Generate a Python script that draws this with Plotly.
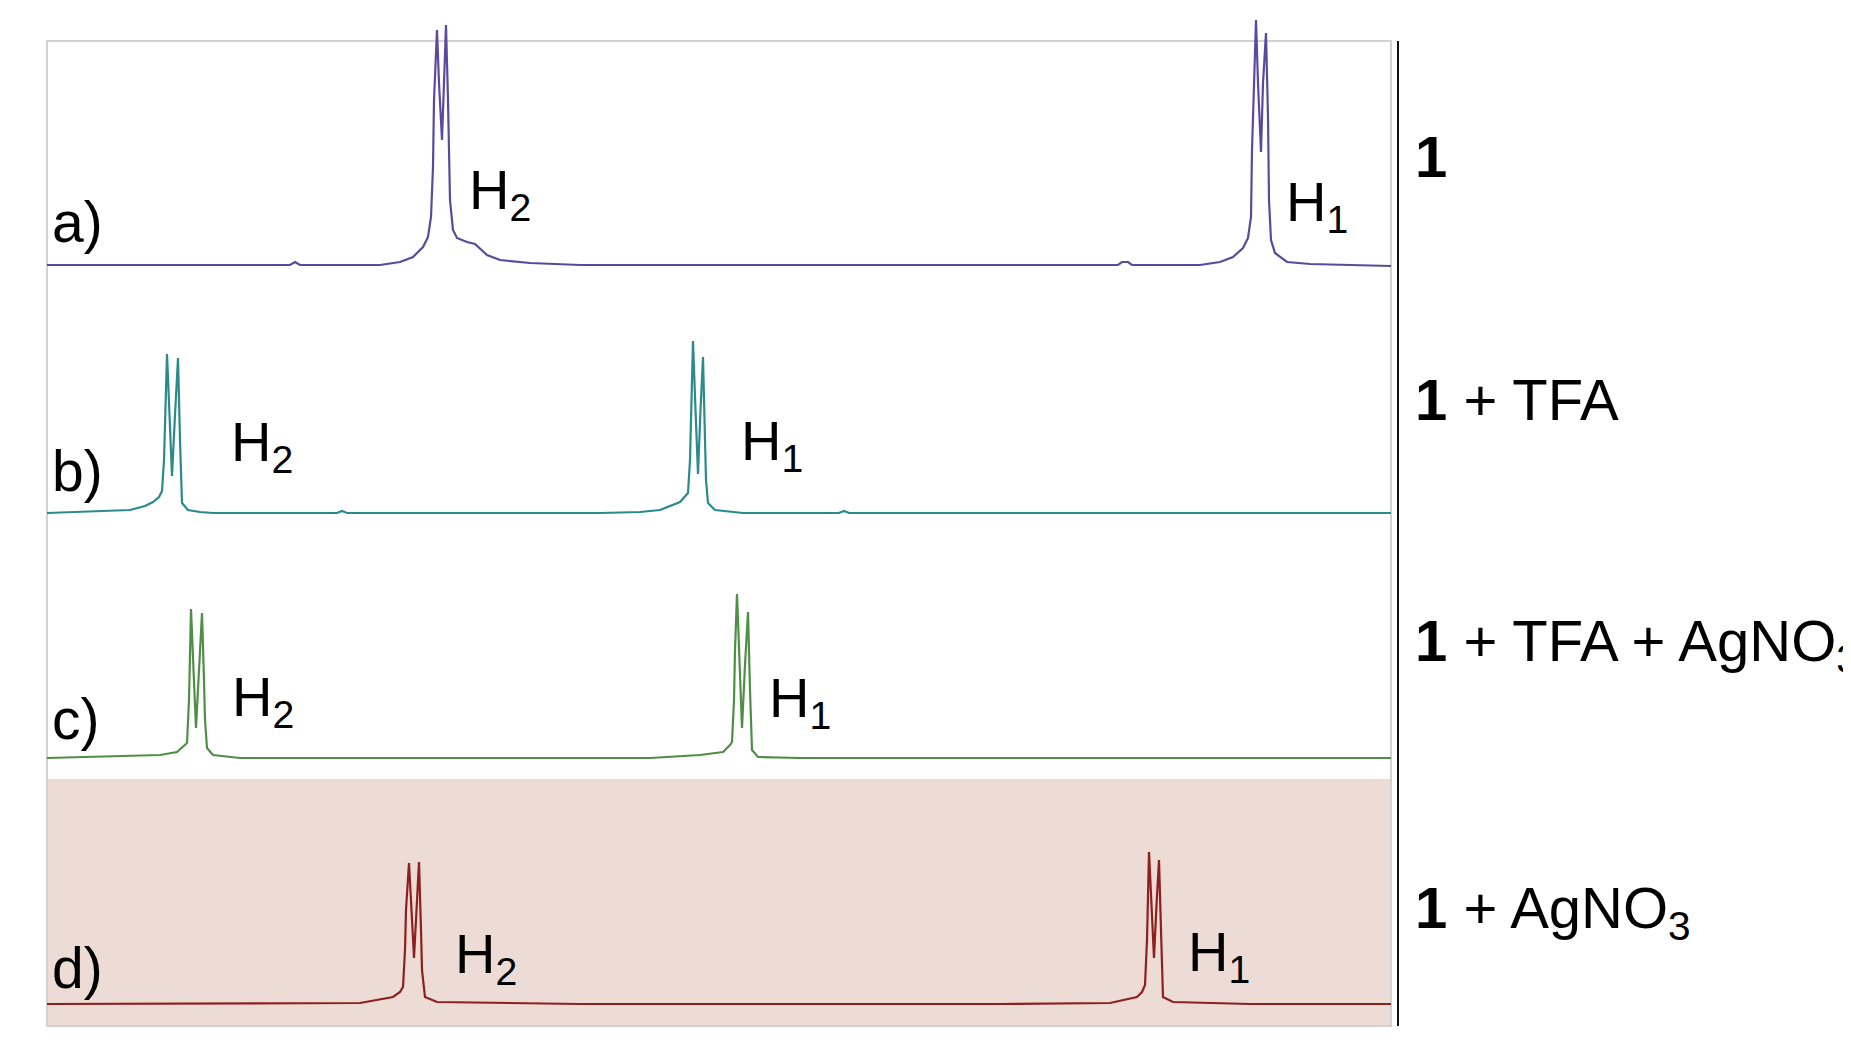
import numpy as np
import plotly.graph_objects as go

# ---- data (arbitrary position / intensity units) ----
# spectrum a) : 1
x_a = [0, 24.3, 24.8, 25.3, 33.3, 35.3, 36.6, 37.6, 38.1, 38.4, 38.6, 38.7, 39.0, 39.2, 39.5, 39.7, 39.9,
       40.1, 40.3, 40.6, 41.0, 42.0, 42.8, 44.0, 45.3, 48.3, 53.3, 107.1, 107.5, 108.1, 108.5,
       115.3, 117.3, 118.6, 119.6, 120.1, 120.4, 120.5, 120.7, 120.9, 121.1, 121.4, 121.6, 121.9,
       122.1, 122.2, 122.4, 122.8, 124.0, 126.3, 134.4]
i_a = [0, 0, 0.3, 0, 0, 0.3, 0.8, 1.8, 2.8, 4.8, 9.8, 16.5, 23.5, 18.2, 12.5, 18.2, 24.0,
       16.5, 6.5, 3.5, 2.7, 2.3, 2.1, 1.0, 0.5, 0.2, 0, 0, 0.3, 0.3, 0,
       0, 0.3, 0.8, 1.7, 2.7, 4.8, 11.5, 18.2, 24.5, 18.2, 11.3, 18.2, 23.2,
       14.8, 6.5, 2.5, 1.2, 0.3, 0.1, -0.1]

# spectrum b) : 1 + TFA
x_b = [0, 5.3, 8.3, 9.8, 10.6, 11.2, 11.5, 11.7, 11.8, 12.0, 12.25, 12.5, 12.8, 13.1, 13.3, 13.4,
       13.5, 14.1, 15.3, 16.6, 29.0, 29.5, 30.0, 55.3, 59.3, 61.3, 63.3, 64.1, 64.3, 64.4, 64.6,
       64.85, 65.1, 65.35, 65.6, 65.8, 65.9, 66.1, 66.8, 69.6, 79.2, 79.7, 80.2, 134.4]
i_b = [0, 0.2, 0.3, 0.7, 1.1, 1.6, 2.2, 5.3, 9.3, 15.9, 9.8, 3.7, 9.8, 15.5, 7.3, 3.3,
       1.0, 0.3, 0.1, 0, 0, 0.2, 0, 0, 0.1, 0.3, 1.1, 2.0, 5.3, 9.3, 17.2,
       10.3, 3.9, 10.3, 15.6, 7.3, 3.3, 1.0, 0.3, 0, 0, 0.2, 0, 0]

# spectrum c) : 1 + TFA + AgNO3
x_c = [0, 7.3, 11.3, 13.0, 13.8, 14.0, 14.2, 14.3, 14.4, 14.65, 14.9, 15.2, 15.5, 15.7, 15.8,
       16.0, 16.6, 19.3, 60.3, 65.3, 67.6, 68.3, 68.5, 68.7, 68.8, 69.0, 69.25, 69.5, 69.8,
       70.1, 70.3, 70.4, 70.5, 71.1, 75.3, 134.4]
i_c = [0, 0.2, 0.3, 0.6, 1.3, 1.5, 5.8, 9.8, 14.9, 8.8, 3.0, 8.8, 14.5, 7.8, 3.8,
       1.0, 0.3, 0, 0, 0.3, 0.6, 1.3, 1.6, 5.8, 10.8, 16.4, 9.3, 3.0, 9.3,
       14.6, 6.8, 2.8, 0.8, 0.1, 0, 0]

# spectrum d) : 1 + AgNO3
x_d = [0, 25.3, 31.3, 34.6, 35.3, 35.6, 35.8, 35.9, 36.2, 36.45, 36.7, 36.95, 37.2, 37.4, 37.5,
       37.8, 39.0, 53.3, 95.3, 106.3, 109.0, 109.5, 109.8, 110.0, 110.1, 110.2, 110.45, 110.7,
       110.95, 111.2, 111.4, 111.5, 111.6, 112.6, 120.3, 134.4]
i_d = [0, 0.1, 0.1, 0.7, 1.2, 1.7, 5.4, 9.4, 14.1, 9.4, 4.6, 9.4, 14.2, 7.4, 3.4,
       0.7, 0.2, 0, 0, 0.1, 0.7, 1.2, 1.9, 6.4, 10.4, 15.2, 9.9, 4.6,
       9.9, 14.4, 7.4, 2.9, 0.7, 0.2, 0, 0]

row_letters = ["a)", "b)", "c)", "d)"]
row_titles = ["<b>1</b>", "<b>1</b> + TFA", "<b>1</b> + TFA + AgNO<sub>3</sub>", "<b>1</b> + AgNO<sub>3</sub>"]
stack_offsets = [76.1, 51.3, 26.8, 2.2]
colors = ["#5a4a9e", "#2b8a8c", "#4f8f45", "#8e1f1f"]

# peak label positions (position, intensity level)
h_labels = ["H<sub>2</sub>", "H<sub>1</sub>"]
h2_pos = [(41.95, 83.3), (18.15, 58.1), (18.25, 32.6), (40.55, 6.9)]
h1_pos = [(123.65, 82.1), (69.15, 58.2), (71.95, 32.5), (113.85, 7.1)]
letter_y = [80.4, 55.5, 30.7, 5.8]
title_y = [87.0, 62.7, 38.1, 11.4]

BOX_W, BOX_H = 134.4, 98.5
PINK_TOP = 24.7

FONT = "Liberation Sans, Arial, sans-serif"
FS = 56
FS_TITLE = 58

fig = go.Figure()

for xs, ints, off, col in zip([x_a, x_b, x_c, x_d], [i_a, i_b, i_c, i_d], stack_offsets, colors):
    fig.add_trace(go.Scatter(x=xs, y=np.array(ints) + off, mode="lines",
                             line=dict(color=col, width=2.2), hoverinfo="skip"))

shapes = [
    dict(type="rect", xref="x", yref="y", x0=0, x1=BOX_W, y0=0, y1=PINK_TOP,
         fillcolor="#eddcd5", line=dict(width=0), layer="below"),
    dict(type="rect", xref="x", yref="y", x0=0, x1=BOX_W, y0=0, y1=BOX_H,
         line=dict(color="#d2d2d2", width=2), layer="below"),
    dict(type="line", xref="x", yref="y", x0=135.1, x1=135.1, y0=0, y1=BOX_H,
         line=dict(color="#111111", width=2)),
]

annotations = []
for k in range(4):
    annotations.append(dict(x=0.3, y=letter_y[k], xref="x", yref="y", text=row_letters[k],
                            showarrow=False, xanchor="left", yanchor="middle",
                            font=dict(family=FONT, size=FS + 1, color="black")))
    annotations.append(dict(x=h2_pos[k][0], y=h2_pos[k][1], xref="x", yref="y", text=h_labels[0],
                            showarrow=False, xanchor="left", yanchor="middle",
                            font=dict(family=FONT, size=FS, color="black")))
    annotations.append(dict(x=h1_pos[k][0], y=h1_pos[k][1], xref="x", yref="y", text=h_labels[1],
                            showarrow=False, xanchor="left", yanchor="middle",
                            font=dict(family=FONT, size=FS, color="black")))
    annotations.append(dict(x=1.0012, y=title_y[k], xref="paper", yref="y", text=row_titles[k],
                            showarrow=False, xanchor="left", yanchor="middle",
                            font=dict(family=FONT, size=FS_TITLE, color="black")))

fig.update_layout(
    width=1851, height=1059,
    margin=dict(l=19, r=448, t=0, b=31),
    paper_bgcolor="white", plot_bgcolor="white",
    showlegend=False,
    xaxis=dict(range=[-2, 136.4], visible=False, showgrid=False, zeroline=False),
    yaxis=dict(range=[-1, 101.8], visible=False, showgrid=False, zeroline=False),
    shapes=shapes, annotations=annotations,
)

fig.write_html("out.html")
